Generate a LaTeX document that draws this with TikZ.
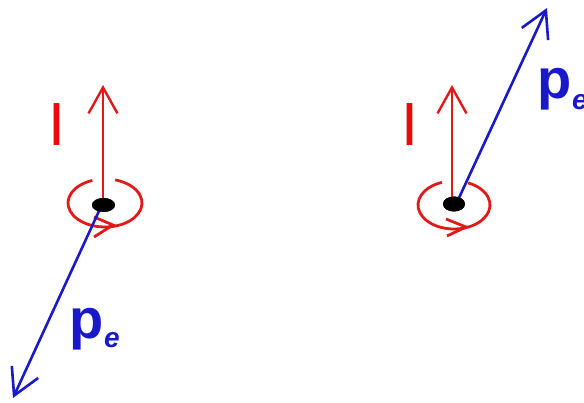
\documentclass[tikz,border=0pt]{standalone}
\usepackage{fontspec}
\setmainfont{Liberation Sans}
\usetikzlibrary{arrows.meta,shapes.geometric}
\definecolor{myred}{RGB}{225,25,25}
\definecolor{ired}{RGB}{235,10,10}
\definecolor{myblue}{RGB}{25,25,200}
\begin{document}
\begin{tikzpicture}[x=1pt,y=-1pt,
  redline/.style={draw=myred, line width=2.4pt},
  redloop/.style={draw=myred, line width=2.8pt},
  blueline/.style={draw=myblue, line width=2.6pt},
  bigtip/.style={-{Straight Barb[length=26pt,width=29pt]}},
  dotnode/.style={ellipse, fill=black, inner sep=0pt, minimum width=23pt, minimum height=14pt},
  ilabel/.style={font=\fontsize{61}{61}\selectfont, text=ired, inner sep=0pt},
  plabel/.style={font=\bfseries\fontsize{56}{56}\selectfont, text=myblue, inner sep=0pt, anchor=base west},
  sublabel/.style={font=\bfseries\itshape\fontsize{28}{28}\selectfont, text=myblue, inner sep=0pt, anchor=base west}]
\useasboundingbox (0,0) rectangle (584,403);
\clip (0,0) rectangle (584,403);
\fill[white] (0,0) rectangle (584,403);

% ---------- left group ----------
\node[dotnode] (d1) at (103.5,205) {};
\coordinate (u1) at (103,85);
\coordinate (b1) at (13,398);
\draw[redline,bigtip] (103,199) -- (u1);
\draw[redloop] (105,203) ++(-110:37 and 24) arc[start angle=-110, end angle=-434, x radius=37, y radius=24];
\coordinate (t1) at (113,225);
\draw[redloop, line join=miter] (94,217) -- (t1) -- (94,237);
\draw[blueline,bigtip] (99,211) -- (b1);
\node[dotnode] at (d1) {};
\node[ilabel] (i1) at (56.5,125) {I};
\node[plabel] (p1) at (69,339) {p};
\node[sublabel] (e1) at (104,348) {e};

% ---------- right group ----------
\node[dotnode, minimum width=22pt, minimum height=15pt] (d2) at (454,204) {};
\coordinate (u2) at (452,85);
\coordinate (b2) at (547,8);
\draw[redline,bigtip] (452,199) -- (u2);
\draw[redloop] (454,205) ++(-109.5:36 and 24) arc[start angle=-109.5, end angle=-427, x radius=36, y radius=24];
\coordinate (t2) at (466,227);
\draw[redloop, line join=miter] (446,219) -- (t2) -- (447,236);
\draw[blueline,bigtip] (458,200) -- (b2);
\node[dotnode, minimum width=22pt, minimum height=15pt] at (d2) {};
\node[ilabel] (i2) at (410,125) {I};
\node[plabel] (p2) at (537,99) {p};
\node[sublabel] (e2) at (572,110) {e};
\end{tikzpicture}
\end{document}
